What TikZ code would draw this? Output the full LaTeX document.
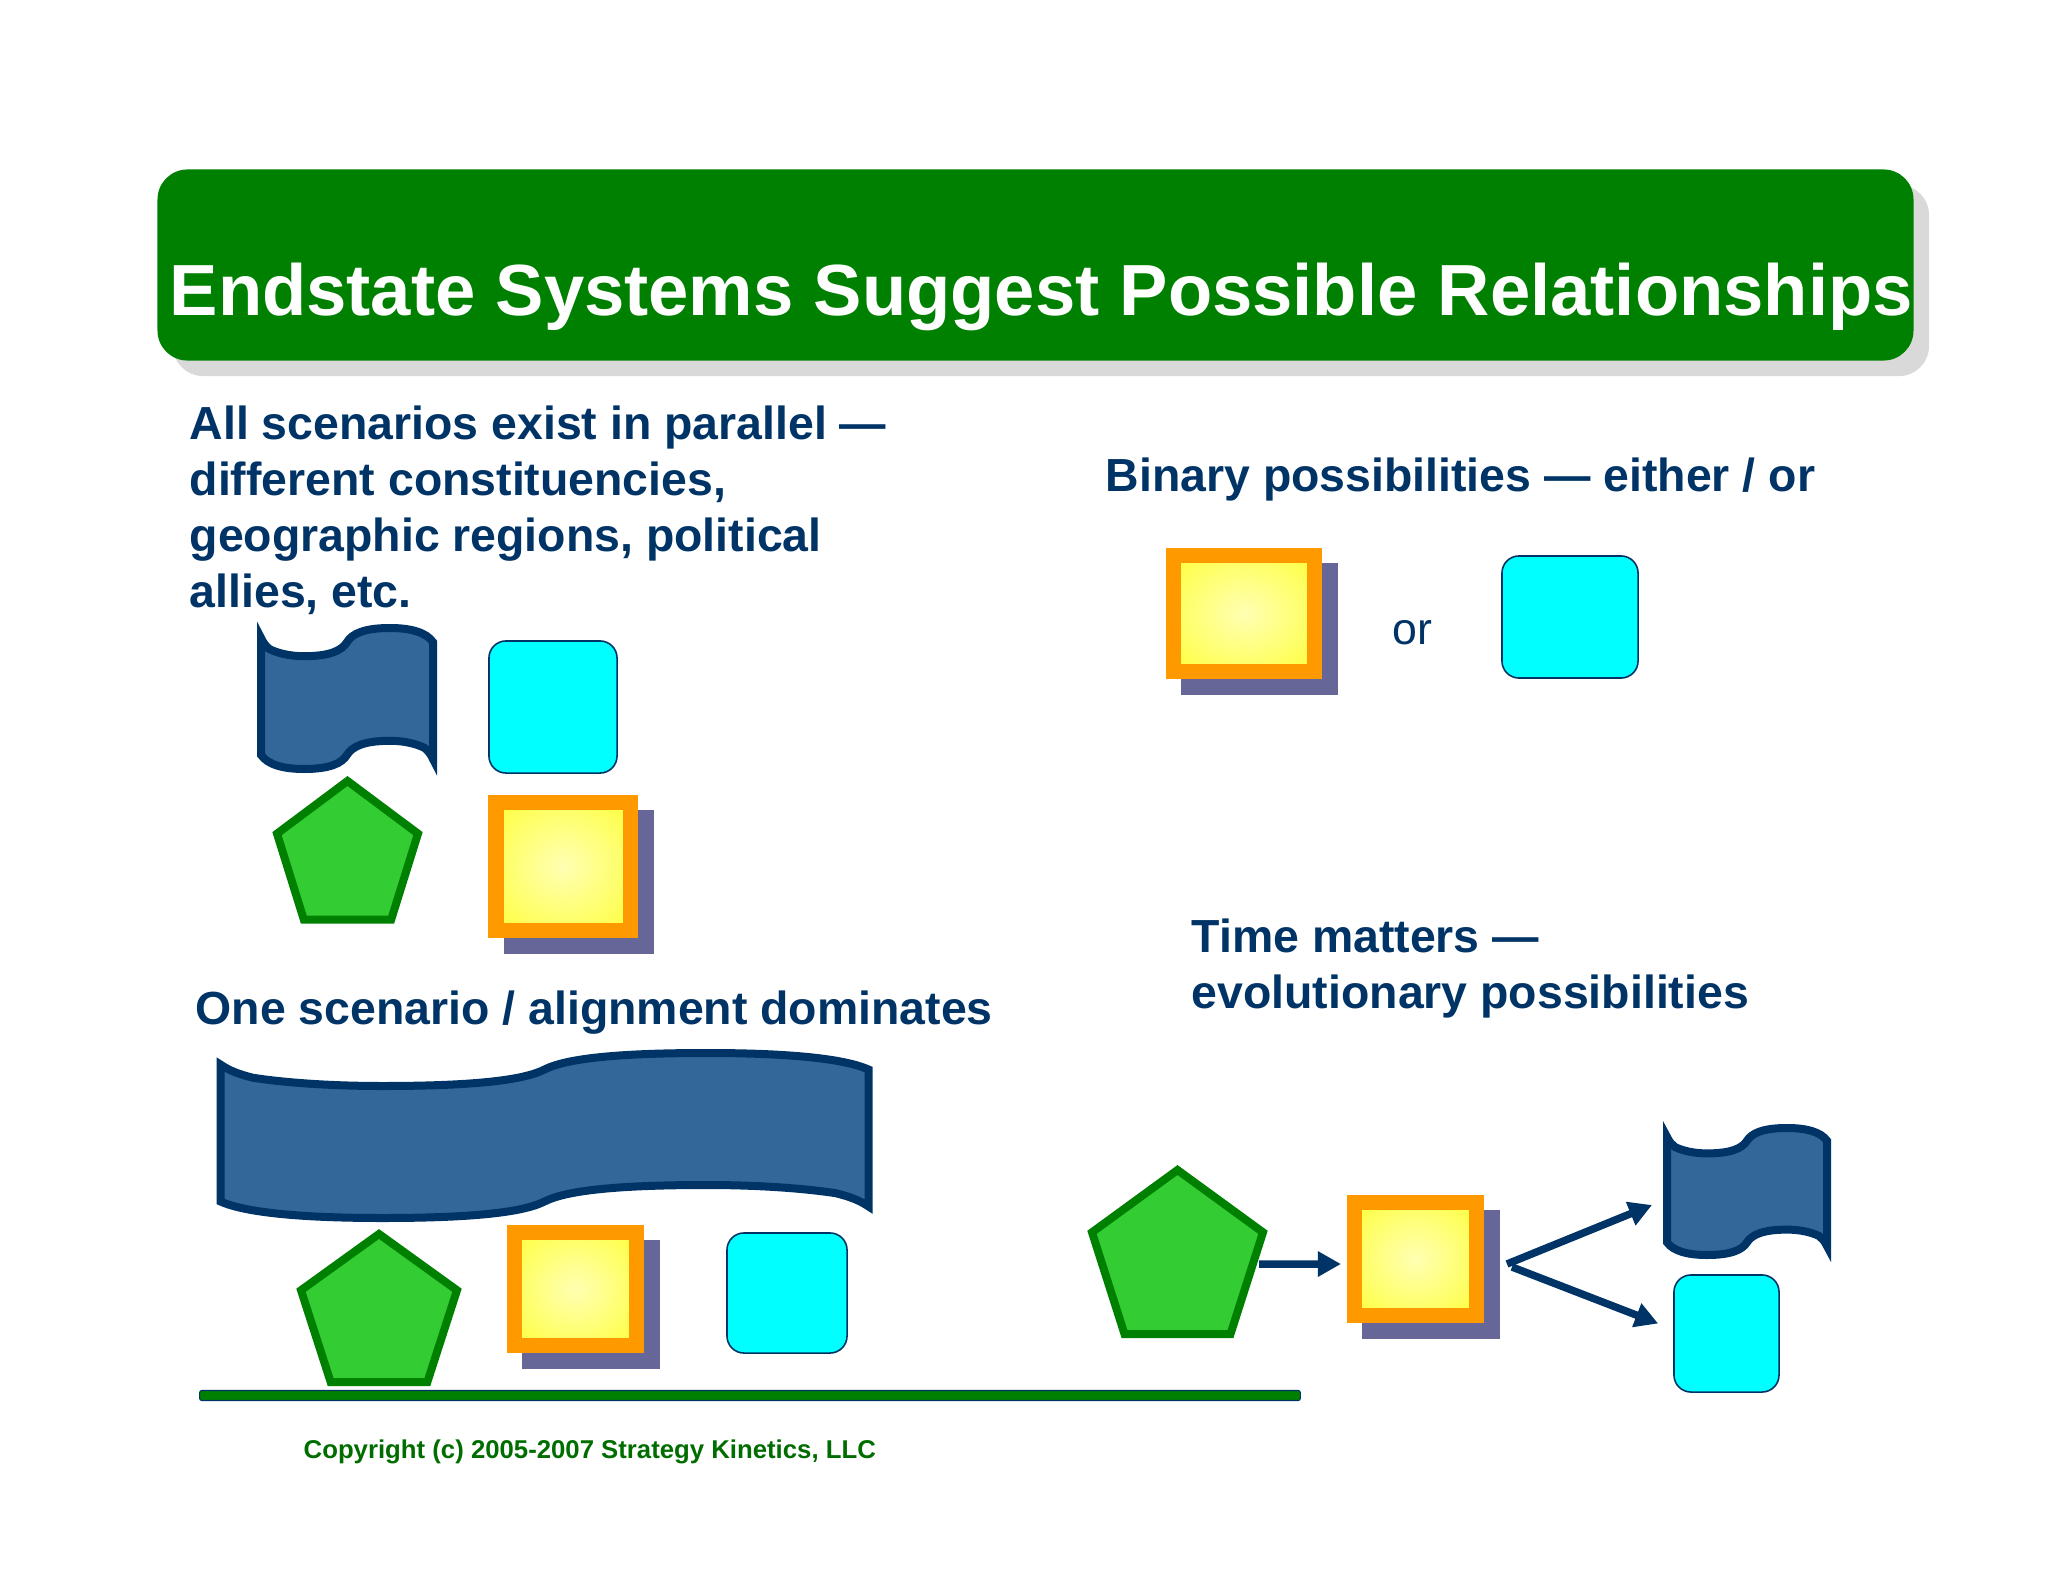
\documentclass[tikz,border=0pt]{standalone}
\usepackage{fontspec}
\setmainfont{Liberation Sans}
\usepackage{xcolor}
\usepackage{tikz}
\usetikzlibrary{
    calc,
    arrows.meta,
    shadows
}
\definecolor{navy}{HTML}{003366}
\definecolor{flagblue}{HTML}{336699}
\definecolor{pentfill}{HTML}{33CC33}
\definecolor{darkgreen}{HTML}{008000}
\definecolor{boxcyan}{HTML}{00FFFF}
\definecolor{boxorange}{HTML}{FF9900}
\definecolor{boxshadow}{HTML}{666699}
\definecolor{barshadow}{HTML}{DAD9D9}
\definecolor{glowmid}{HTML}{FFFFB3}
\definecolor{glowedge}{HTML}{FFFF33}
\pgfdeclareradialshading{glowsq}{\pgfpointorigin}{color(0bp)=(glowmid); color(38bp)=(glowedge); color(100bp)=(glowedge)}
\tikzset{
    headtext/.style={anchor=north west,inner sep=0pt,align=left,text=navy,font=\fontsize{13.2pt}{15.9pt}\selectfont\bfseries},
    cyanbox/.style={draw=navy,line width=0.45pt,fill=boxcyan,rounded corners=0.17cm,inner sep=0pt},
    glowbox/.style={draw=boxorange,line width=0.155cm,shading=glowsq,inner sep=0pt,
        drop shadow={shadow xshift=0.155cm,shadow yshift=-0.155cm,opacity=1,fill=boxshadow,draw=boxshadow}},
    flag/.style={draw=navy,fill=flagblue,line width=0.08cm,miter limit=20},
    pent/.style={draw=darkgreen,fill=pentfill,line width=0.08cm},
    linkarrow/.style={draw=navy,line width=0.075cm,-{Triangle[length=0.23cm,width=0.24cm]}}
}
% name, left, top, right, bottom of the centre line
\newcommand{\flagshape}[5]{
    \begin{scope}[shift={(#2,#3)},xscale={(#4-#2)/100},yscale={(#5-#3)/100}]
        \draw[flag] (0,7) .. controls (1.5,11) and (3,13) .. (5,15)
            .. controls (10,18) and (17,20) .. (25,20)
            .. controls (40,20) and (47,16) .. (50,10)
            .. controls (53,4) and (60,0) .. (75,0)
            .. controls (87,0) and (96,3) .. (100,10)
            -- (100,93) .. controls (98.5,89) and (97,87) .. (95,85)
            .. controls (90,82) and (83,80) .. (75,80)
            .. controls (60,80) and (53,84) .. (50,90)
            .. controls (47,96) and (40,100) .. (25,100)
            .. controls (13,100) and (4,97) .. (0,90) -- cycle;
        \coordinate (#1) at (0,50);
    \end{scope}
}
\newcommand{\pentshape}[5]{
    \begin{scope}[shift={(#2,#3)},xscale={(#4-#2)/100},yscale={(#5-#3)/100}]
        \draw[pent] (50,0) -- (100,38) -- (81,100) -- (19,100) -- (0,38) -- cycle;
        \coordinate (#1) at (100,50);
    \end{scope}
}

\begin{document}
\begin{tikzpicture}[x=0.01cm,y=-0.01cm]
        \useasboundingbox (0,0) rectangle (2048,1582);

        \draw (1035.5,265) node[fill=darkgreen,rounded corners=0.3cm,minimum width=17.55cm,minimum height=1.91cm,inner sep=0pt,
            drop shadow={shadow xshift=0.155cm,shadow yshift=-0.155cm,opacity=1,fill=barshadow}](titlebar){};
        \draw (169,315) node[anchor=base west,inner sep=0pt,text=white,font=\fontsize{20.6pt}{25pt}\selectfont\bfseries](title){Endstate Systems Suggest Possible Relationships};

        \draw (189,405) node[headtext](parallel){All scenarios exist in parallel ---\\different constituencies,\\geographic regions, political\\allies, etc.};
        \flagshape{parallelFlag}{261}{628}{433}{769}
        \draw (553,707) node[cyanbox,minimum width=1.28cm,minimum height=1.32cm](parallelCyan){};
        \pentshape{parallelPent}{277}{781}{418}{919.5}
        \draw (563.25,866.5) node[glowbox,minimum width=1.345cm,minimum height=1.275cm](parallelSq){};

        \draw (1105,457) node[headtext](binary){Binary possibilities --- either / or};
        \draw (1244,613.5) node[glowbox,minimum width=1.405cm,minimum height=1.155cm](binarySq){};
        \draw (1392,644) node[anchor=base west,inner sep=0pt,text=navy,font=\fontsize{12.7pt}{15pt}\selectfont](orword){or};
        \draw (1570,617) node[cyanbox,minimum width=1.36cm,minimum height=1.22cm](binaryCyan){};

        \draw (195,990) node[headtext](dominates){One scenario / alignment dominates};
        \flagshape{domFlag}{220.5}{1053}{868.5}{1218}
        \pentshape{domPent}{301}{1234}{457}{1382}
        \draw (575.5,1289) node[glowbox,minimum width=1.215cm,minimum height=1.125cm](domSq){};
        \draw (787,1293) node[cyanbox,minimum width=1.2cm,minimum height=1.2cm](domCyan){};
        \draw (750,1395.5) node[draw=navy,line width=0.3pt,fill=darkgreen,rounded corners=0.02cm,minimum width=11cm,minimum height=0.1cm,inner sep=0pt](footline){};
        \draw (303,1458) node[anchor=base west,inner sep=0pt,text=darkgreen!85!black,font=\fontsize{7.32pt}{9pt}\selectfont\bfseries](copyright){Copyright (c) 2005-2007 Strategy Kinetics, LLC};

        \draw (1191,918) node[headtext](timematters){Time matters ---\\evolutionary possibilities};
        \pentshape{timePent}{1092}{1170}{1263}{1334}
        \draw (1415.5,1259) node[glowbox,minimum width=1.215cm,minimum height=1.125cm](timeSq){};
        \flagshape{timeFlag}{1667}{1128}{1827}{1255}
        \draw (1726.5,1333.5) node[cyanbox,minimum width=1.05cm,minimum height=1.17cm](timeCyan){};

        \coordinate (timeOut) at (1259,1264);
        \coordinate (forkUp) at (1507,1264);
        \coordinate (forkDown) at (1512,1267);
        \draw[linkarrow] (timeOut) -- ([xshift=-0.06cm,yshift=-0.05cm]timeSq.west);
        \draw[linkarrow] (forkUp) -- ([xshift=-0.15cm,yshift=-0.135cm]timeFlag);
        \draw[linkarrow] (forkDown) -- ([xshift=-0.15cm,yshift=0.1cm]timeCyan.west);
    \end{tikzpicture}
\end{document}
